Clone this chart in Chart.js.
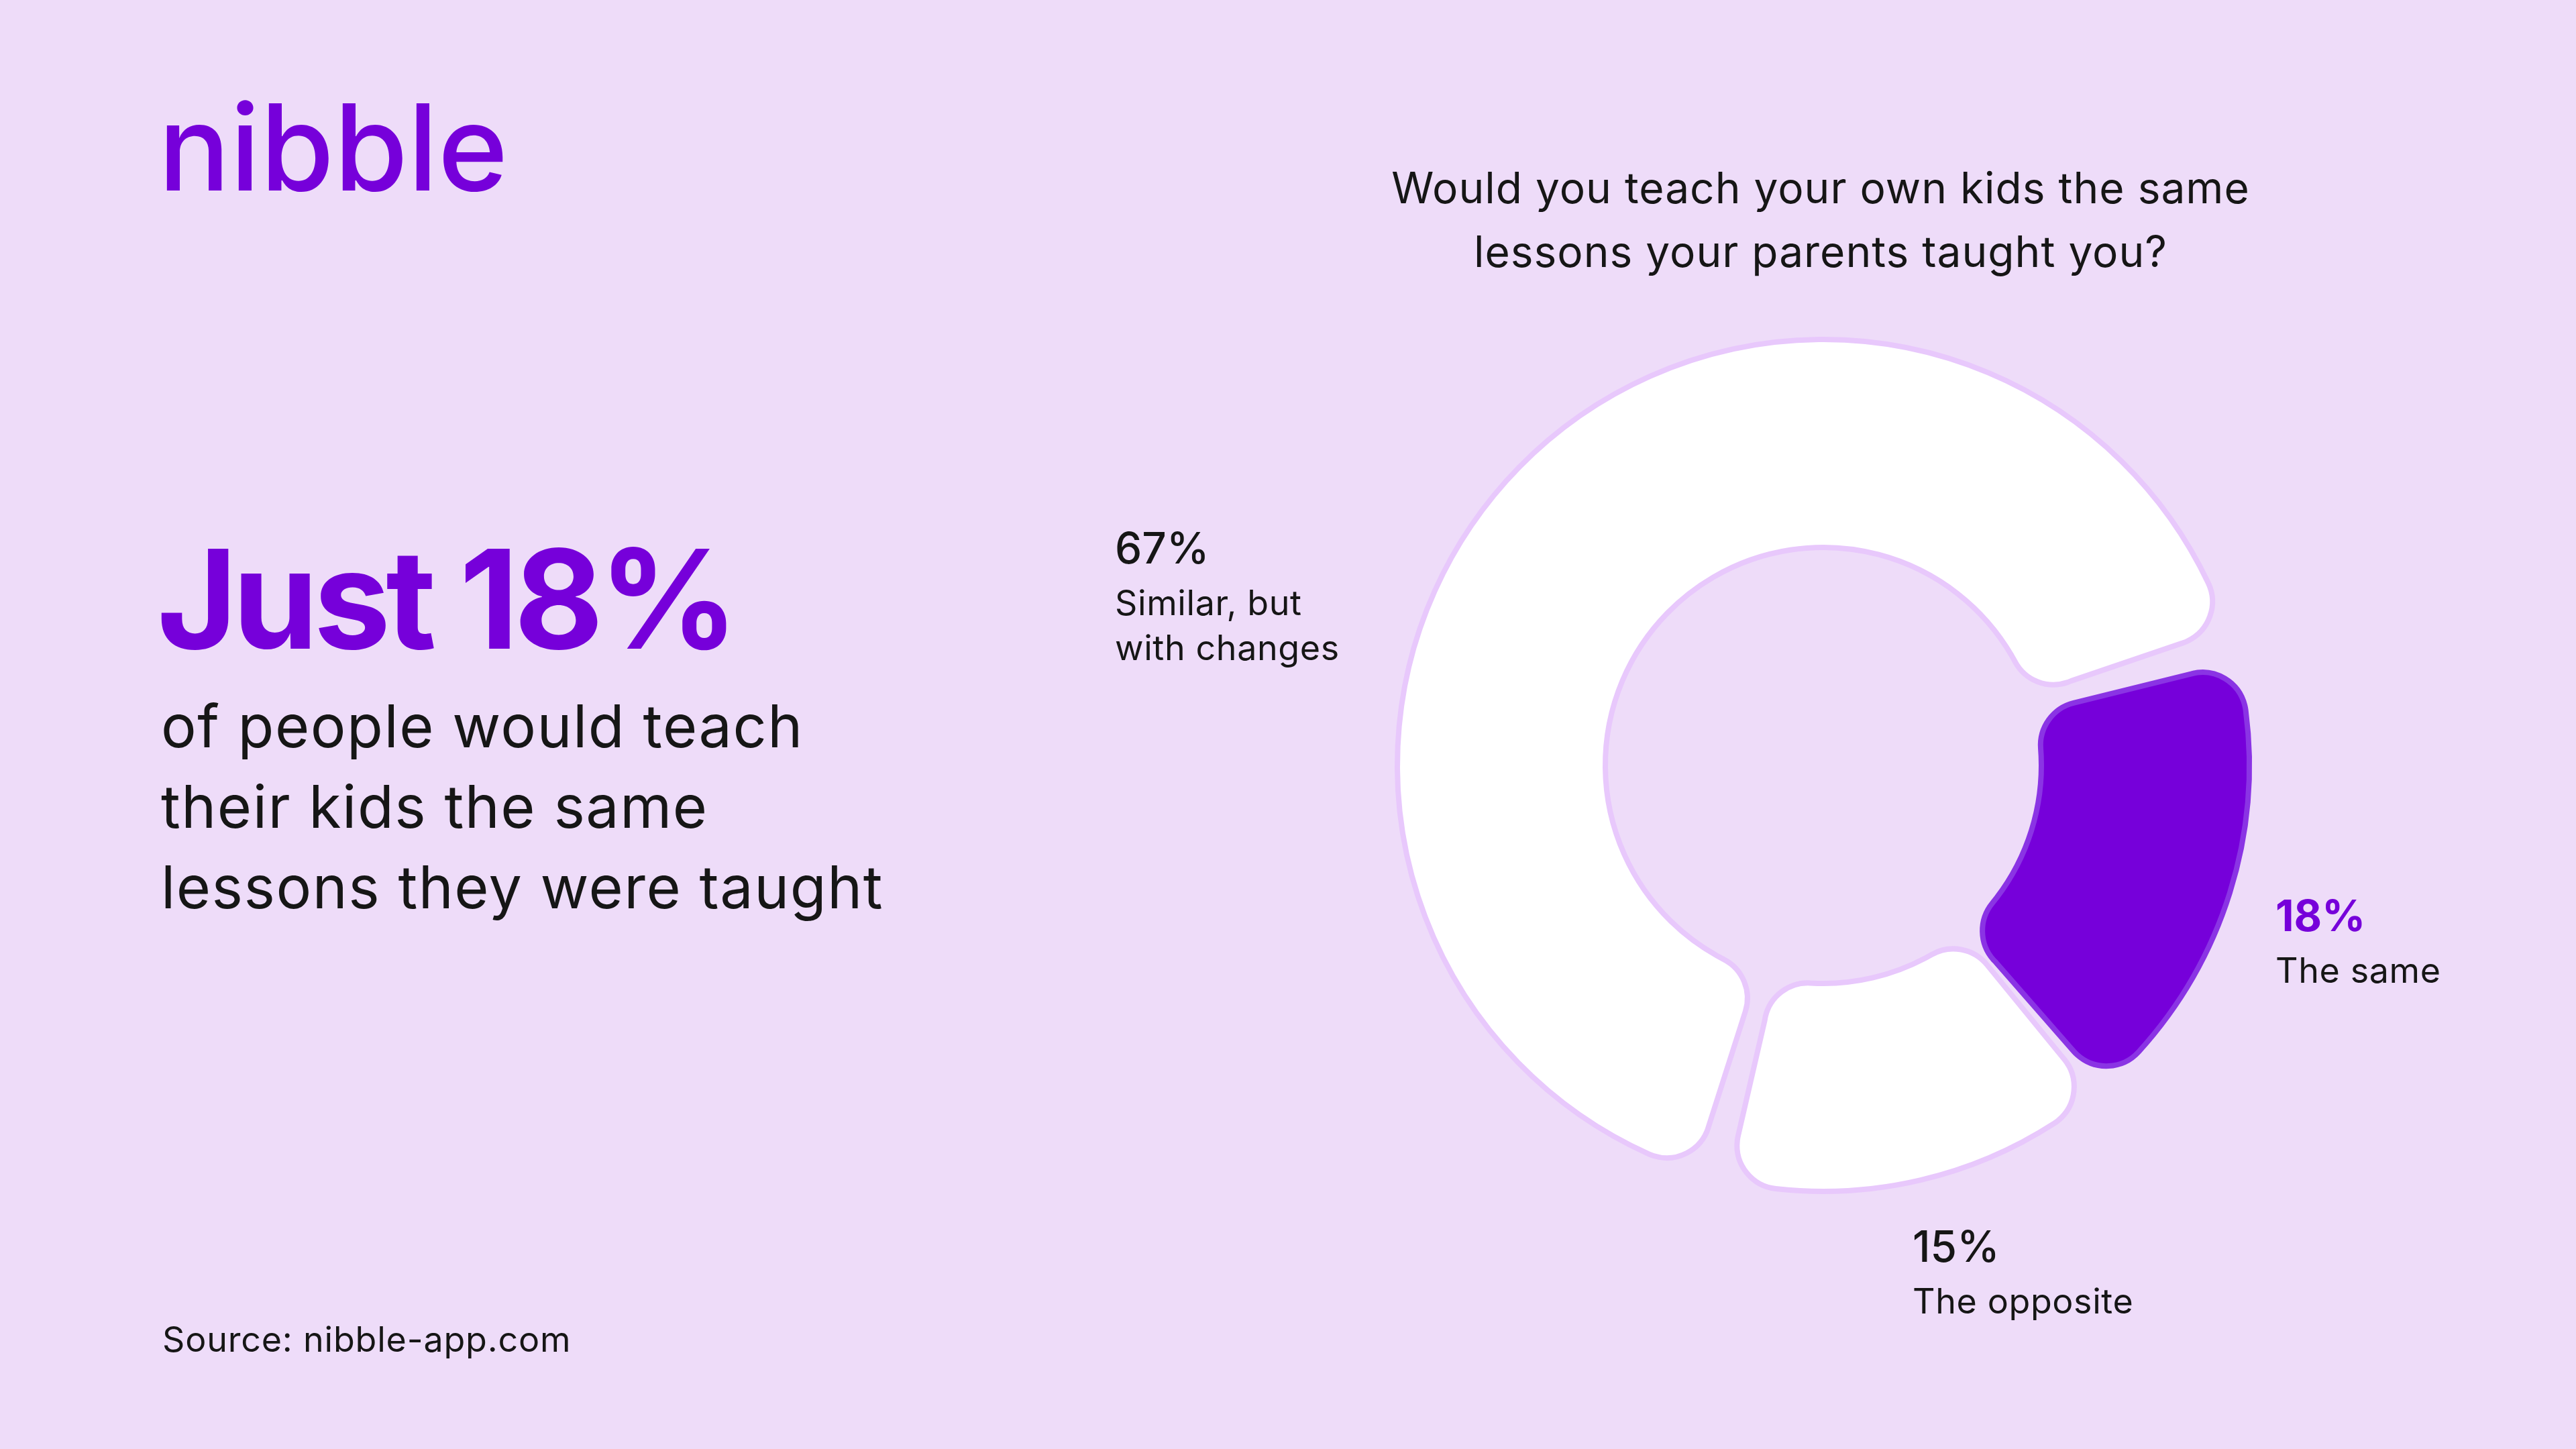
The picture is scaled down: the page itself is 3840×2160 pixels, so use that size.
<!DOCTYPE html>
<html lang="en">

<head>
    <meta charset="UTF-8">
    <title>Would you teach your own kids the same lessons?</title>
    <script src="https://cdn.jsdelivr.net/npm/chart.js"></script>
    <style>
        html, body {
            margin: 0;
            padding: 0;
        }

        body {
            width: 3840px;
            height: 2160px;
            background: #eedcf9;
            position: relative;
            overflow: hidden;
            font-family: "Inter", "Noto Sans", sans-serif;
            color: #161616;
        }

        .txt {
            position: absolute;
            white-space: nowrap;
            line-height: normal;
        }

        .logo {
            font-size: 178px;
            font-weight: 500;
            color: #7600da;
            letter-spacing: 0px;
        }

        .headline {
            font-size: 205px;
            font-weight: 700;
            color: #7600da;
            letter-spacing: -7px;
        }

        .sub {
            font-size: 88px;
            line-height: 120px;
            letter-spacing: 1.5px;
            white-space: pre;
        }

        .question {
            font-size: 64px;
            line-height: 95px;
            letter-spacing: 1px;
            text-align: center;
            width: 2000px;
            white-space: pre;
        }

        .source {
            font-size: 52px;
            letter-spacing: 0.8px;
        }

        .val {
            font-size: 64px;
            font-weight: 500;
        }

        .val.hot {
            font-weight: 700;
            color: #7600da;
        }

        .lbl {
            font-size: 52px;
            line-height: 67px;
            letter-spacing: 0.6px;
            white-space: pre;
        }

        #donut {
            position: absolute;
            left: 2018px;
            top: 441px;
        }
    </style>
</head>

<body>
    <canvas id="donut" width="1400" height="1400"></canvas>
</body>

</html>

<script>
    // dados do grafico (ordem no sentido horario, a partir do corte a direita)
    var categorias = ['The same', 'The opposite', 'Similar, but\nwith changes'];
    var percentuais = [18, 15, 67];
    var destaque = [true, false, false];

    // textos da pagina
    var marca = 'nibble';
    var manchete = 'Just 18%';
    var subtitulo = 'of people would teach\ntheir kids the same\nlessons they were taught';
    var pergunta = 'Would you teach your own kids the same\nlessons your parents taught you?';
    var fonte = 'Source: nibble-app.com';

    // onde ficam os rotulos de cada fatia (x, linha de base do valor)
    var posRotulos = [
        [3392, 1388],
        [2851, 1881],
        [1662, 840]
    ];

    // Inter: ascendente 0.969, altura da linha normal 1.21
    function colocar(cls, texto, x, baseline, tam, alturaLinha) {
        var el = document.createElement('div');
        el.className = 'txt ' + cls;
        el.textContent = texto;
        var lh = alturaLinha || tam * 1.21;
        var top = baseline - ((lh - tam * 1.21) / 2 + tam * 0.969);
        el.style.left = x + 'px';
        el.style.top = top + 'px';
        document.body.appendChild(el);
        return el;
    }

    colocar('logo', marca, 236, 284, 178);
    colocar('headline', manchete, 234, 967, 205);
    colocar('sub', subtitulo, 240, 1114, 88, 120);
    colocar('question', pergunta, 2714 - 1000, 303, 64, 95);
    colocar('source', fonte, 242, 2015, 52);

    for (let i = 0; i < categorias.length; i++) {
        let x = posRotulos[i][0];
        let y = posRotulos[i][1];
        colocar('val' + (destaque[i] ? ' hot' : ''), percentuais[i] + '%', x, y, 64);
        colocar('lbl', categorias[i], x, y + 77, 52, 67);
    }

    const cores = percentuais.map((v, i) => destaque[i] ? '#7600da' : '#ffffff');
    const bordas = percentuais.map((v, i) => destaque[i] ? '#8a34e4' : '#e8c8fc');

    const config = {
        type: 'doughnut',
        data: {
            labels: categorias,
            datasets: [{
                data: percentuais,
                backgroundColor: cores,
                borderColor: bordas,
                borderWidth: 8,
                spacing: 30,
                borderRadius: 65
            }]
        },
        options: {
            responsive: false,
            animation: false,
            devicePixelRatio: 1,
            rotation: 75,
            radius: 620,
            cutout: '50%',
            layout: { padding: 0 },
            plugins: {
                legend: { display: false },
                tooltip: { enabled: false }
            }
        }
    };

    const grafico = new Chart(document.getElementById('donut'), config);
</script>
